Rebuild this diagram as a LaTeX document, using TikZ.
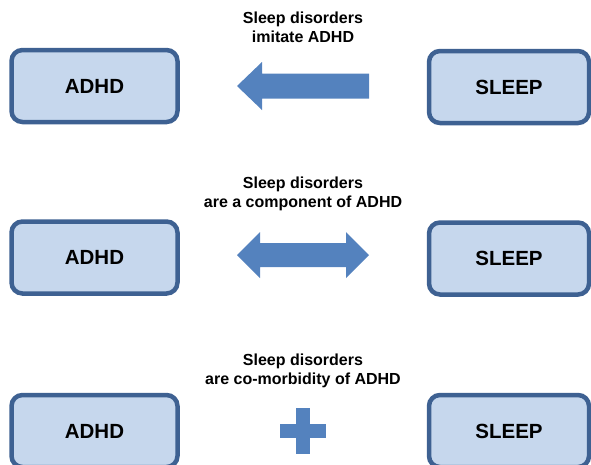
\documentclass[tikz,border=0pt]{standalone}
\usepackage{fontspec}
\setmainfont{Liberation Sans}
\definecolor{boxfill}{HTML}{C6D7ED}
\definecolor{boxline}{HTML}{3E6192}
\definecolor{arrowblue}{HTML}{5482BE}

\begin{document}
\begin{tikzpicture}[x=1pt,y=-1pt,
    box/.style={draw=boxline,fill=boxfill,line width=4.5pt,rounded corners=11pt,
        minimum width=166pt,minimum height=72pt,
        font=\fontsize{20.5}{24}\selectfont\bfseries},
    caption/.style={align=center,font=\fontsize{16}{19.5}\selectfont\bfseries}]
    \useasboundingbox (0,0) rectangle (591,464);
    % first row
    \node[caption] (cap1) at (303,27.5) {Sleep disorders\\imitate ADHD};
    \node[box] (adhd1) at (94.5,86) {ADHD};
    \node[box,minimum width=160pt] (sleep1) at (509,87) {SLEEP};
    \fill[arrowblue] (237,86) -- ++(25,-24) -- ++(0,11.5) -- ++(107,0)
        -- ++(0,25) -- ++(-107,0) -- ++(0,11.5) -- cycle;
    % second row
    \node[caption] (cap2) at (303,194) {Sleep disorders\\are a component of ADHD};
    \node[box] (adhd2) at (94.5,257.5) {ADHD};
    \node[box,minimum width=160pt] (sleep2) at (509,258.5) {SLEEP};
    \fill[arrowblue] (237,255) -- ++(23,-23) -- ++(0,11) -- ++(86,0) -- ++(0,-11)
        -- ++(23,23) -- ++(-23,23) -- ++(0,-11) -- ++(-86,0) -- ++(0,11) -- cycle;
    % third row
    \node[caption] (cap3) at (303,371) {Sleep disorders\\are co-morbidity of ADHD};
    \node[box] (adhd3) at (94.5,431) {ADHD};
    \node[box,minimum width=160pt] (sleep3) at (509,431) {SLEEP};
    \fill[arrowblue] (296,408) rectangle (310,454);
    \fill[arrowblue] (280,424) rectangle (326,438);
\end{tikzpicture}
\end{document}
